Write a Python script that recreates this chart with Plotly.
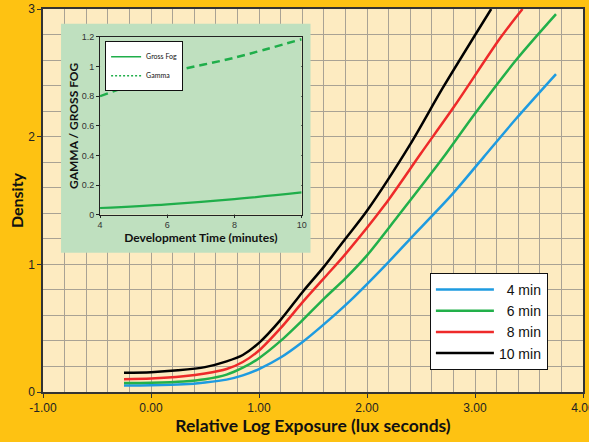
import plotly.graph_objects as go

# ---- main chart data (Relative Log Exposure vs Density) ----
x_4min = [-0.25, 0.0, 0.3, 0.5, 0.7, 0.85, 1.0, 1.2, 1.4, 1.6, 1.85, 2.19, 2.40, 2.78, 3.08, 3.38, 3.75]
y_4min = [0.05, 0.052, 0.06, 0.075, 0.097, 0.13, 0.18, 0.27, 0.39, 0.53, 0.72, 1.01, 1.20, 1.54, 1.84, 2.14, 2.49]

x_6min = [-0.25, 0.0, 0.3, 0.5, 0.7, 0.85, 1.0, 1.2, 1.4, 1.6, 1.8, 2.0, 2.28, 2.70, 2.99, 3.39, 3.75]
y_6min = [0.07, 0.073, 0.083, 0.10, 0.136, 0.19, 0.265, 0.40, 0.56, 0.73, 0.89, 1.07, 1.37, 1.83, 2.17, 2.61, 2.96]

x_8min = [-0.25, 0.0, 0.3, 0.5, 0.7, 0.85, 1.0, 1.2, 1.4, 1.6, 1.8, 2.16, 2.5, 2.81, 3.24, 3.44]
y_8min = [0.10, 0.105, 0.123, 0.145, 0.18, 0.235, 0.325, 0.50, 0.70, 0.89, 1.08, 1.46, 1.87, 2.24, 2.78, 3.00]

x_10min = [-0.25, 0.0, 0.25, 0.5, 0.7, 0.85, 1.0, 1.2, 1.4, 1.6, 1.8, 2.0, 2.4, 2.7, 3.15]
y_10min = [0.15, 0.155, 0.17, 0.195, 0.24, 0.29, 0.385, 0.565, 0.78, 0.98, 1.20, 1.42, 1.94, 2.38, 3.00]

series_names = ["\u20074 min", "\u20076 min", "\u20078 min", "10 min"]
series_colors = ["#1E9BE0", "#22B04A", "#EE2A2A", "#000000"]

x_tickvals = [-1, 0, 1, 2, 3, 4]
x_ticktext = ["-1.00", "0.00", "1.00", "2.00", "3.00", "4.00"]
y_tickvals = [0, 1, 2, 3]
y_ticktext = ["0", "1", "2", "3"]

# ---- inset data (Development Time vs Gamma / Gross Fog) ----
dev_time = [4, 6, 8, 10]
gross_fog = [0.045, 0.07, 0.105, 0.15]
gamma = [0.80, 0.955, 1.06, 1.185]
inset_xticks = [4, 6, 8, 10]
inset_yticks = [0, 0.2, 0.4, 0.6, 0.8, 1, 1.2]
inset_yticktext = ["0", "0.2", "0.4", "0.6", "0.8", "1", "1.2"]

GOLD = "#FEC212"
PALE = "#FDEBC1"
GREEN_BG = "#BFE0BF"
GRID = "#A9A294"
INSET_GREEN = "#1FAE4A"

fig = go.Figure()

xs = [x_4min, x_6min, x_8min, x_10min]
ys = [y_4min, y_6min, y_8min, y_10min]
for xv, yv, name, col in zip(xs, ys, series_names, series_colors):
    fig.add_trace(go.Scatter(x=xv, y=yv, name=name, mode="lines",
                             line=dict(color=col, width=2.5, shape="spline", smoothing=0.8),
                             xaxis="x", yaxis="y", legend="legend"))

# inset traces
fig.add_trace(go.Scatter(x=dev_time, y=gross_fog, mode="lines", showlegend=False,
                         line=dict(color=INSET_GREEN, width=2.2, shape="spline"),
                         xaxis="x2", yaxis="y2"))
fig.add_trace(go.Scatter(x=dev_time, y=gamma, mode="lines", showlegend=False,
                         line=dict(color=INSET_GREEN, width=2.5, dash="8px,5px", shape="spline"),
                         xaxis="x2", yaxis="y2"))
# inset legend entries
fig.add_trace(go.Scatter(x=[None], y=[None], mode="lines", name="Gross Fog",
                         line=dict(color=INSET_GREEN, width=1.5),
                         xaxis="x2", yaxis="y2", legend="legend2"))
fig.add_trace(go.Scatter(x=[None], y=[None], mode="lines", name="Gamma",
                         line=dict(color=INSET_GREEN, width=1.5, dash="2px,2px"),
                         xaxis="x2", yaxis="y2", legend="legend2"))

ax_common = dict(showline=True, linecolor="#333333", linewidth=1.5, mirror=True,
                 ticks="outside", ticklen=4, tickcolor="#333333", zeroline=False,
                 showgrid=True, gridcolor=GRID, gridwidth=1, ticklabeloverflow="allow",
                 tickfont=dict(family="Liberation Sans, Arial", size=12, color="#222222"))

fig.update_layout(
    width=589, height=442,
    paper_bgcolor=GOLD, plot_bgcolor=PALE,
    margin=dict(l=43, r=6, t=9, b=50, autoexpand=False),
    xaxis=dict(range=[-1, 4], tickvals=x_tickvals, ticktext=x_ticktext,
               minor=dict(dtick=0.2, tick0=-1, showgrid=True, gridcolor=GRID, gridwidth=1),
               title=dict(text="<b>Relative Log Exposure (lux seconds)</b>", standoff=1,
                          font=dict(family="Lato", size=17.5, color="#111111")),
               automargin=False, **ax_common),
    yaxis=dict(range=[0, 3], tickvals=y_tickvals, ticktext=y_ticktext,
               minor=dict(dtick=0.2, tick0=0, showgrid=True, gridcolor=GRID, gridwidth=1),
               title=dict(text="<b>Density</b>", standoff=1,
                          font=dict(family="Lato", size=16, color="#111111")),
               automargin=False, **ax_common),
    xaxis2=dict(domain=[0.1056, 0.479], anchor="y2", range=[4, 10], tickvals=inset_xticks,
                showline=True, linecolor="#222222", linewidth=1, mirror=True,
                ticks="outside", ticklen=2, tickcolor="#222222", zeroline=False,
                showgrid=True, gridcolor="#222222", gridwidth=1, ticklabeloverflow="allow",
                tickfont=dict(family="Liberation Sans, Arial", size=9, color="#333333"),
                title=dict(text="<b>Development Time (minutes)</b>", standoff=4,
                           font=dict(family="Lato", size=12, color="#111111")),
                automargin=False),
    yaxis2=dict(domain=[0.463, 0.927], anchor="x2", range=[0, 1.2], tickvals=inset_yticks,
                ticktext=inset_yticktext,
                showline=True, linecolor="#222222", linewidth=1, mirror=True,
                ticks="outside", ticklen=3, tickcolor="#222222", zeroline=False,
                showgrid=True, gridcolor="#222222", gridwidth=1, ticklabeloverflow="allow",
                tickfont=dict(family="Liberation Sans, Arial", size=9, color="#333333"),
                title=dict(text="<b>GAMMA / GROSS FOG</b>", standoff=0,
                           font=dict(family="Lato", size=12, color="#111111")),
                automargin=False),
    legend=dict(x=0.935, y=0.311, xanchor="right", yanchor="top",
                bgcolor="white", bordercolor="#111111", borderwidth=1,
                font=dict(family="Liberation Sans, Arial", size=14, color="#111111"),
                tracegroupgap=0, itemwidth=58),
    legend2=dict(x=0.115, y=0.916, xanchor="left", yanchor="top",
                 bgcolor="white", bordercolor="#111111", borderwidth=1,
                 font=dict(family="Lato", size=7, color="#111111"),
                 tracegroupgap=0, itemwidth=30),
    shapes=[
        # green panel behind the inset (drawn above main grid, below traces)
        dict(type="rect", xref="x", yref="y",
             x0=-0.833, x1=1.477, y0=1.09, y1=2.885,
             fillcolor=GREEN_BG, line=dict(width=0), layer="between"),
        dict(type="rect", xref="x2", yref="y2",
             x0=4, x1=10, y0=0, y1=1.2,
             fillcolor=GREEN_BG, line=dict(width=0), layer="between"),
    ],
)

fig.write_html("out.html", config={"displayModeBar": False},
               post_script="document.body.style.margin='0';document.body.style.background='%s';" % GOLD)
